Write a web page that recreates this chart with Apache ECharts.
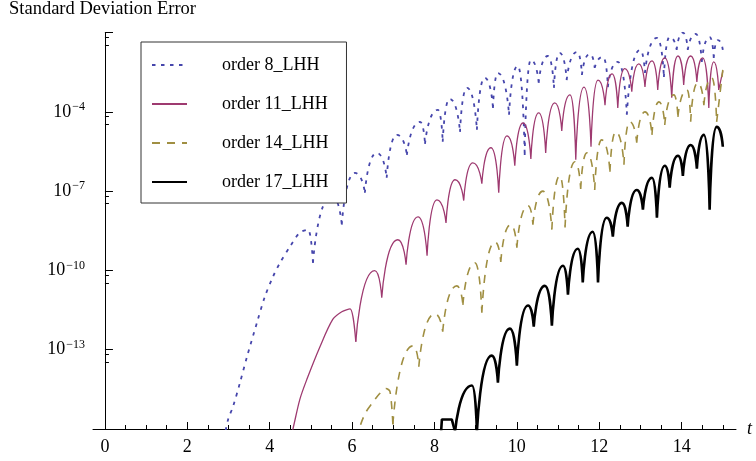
<!DOCTYPE html>
<html>
<head>
<meta charset="utf-8">
<title>Standard Deviation Error</title>
<script src="https://cdn.jsdelivr.net/npm/echarts@6/dist/echarts.min.js"></script>
<style>
  html, body { margin: 0; padding: 0; background: #fff; }
  #chart { width: 756px; height: 461px; }
</style>
</head>
<body>
<div id="chart"></div>
<script>
// values. "lead" = the first rise off the floor,
// "arch" = alternating cusp / peak (cusps at even index), last entry = end of run
const names = ['order 8_LHH', 'order 11_LHH', 'order 14_LHH', 'order 17_LHH'];

const lead8T = [2.89, 2.99, 3.11, 3.28, 3.45, 3.69, 3.88, 4.08, 4.25, 4.49, 4.73, 4.93, 5.05];
const lead8V = [4e-17, 2.3e-16, 7.1e-16, 5.8e-15, 5.5e-14, 1.05e-12, 1.0e-11, 5.8e-11, 1.95e-10, 7.9e-10, 2.7e-9, 3.5e-9, 1.95e-10];
const arch8T = [5.05, 5.51, 5.75, 6.07, 6.31, 6.60, 6.84, 7.09, 7.33, 7.65, 7.77, 8.08, 8.20, 8.37, 8.62, 8.79,
  9.03, 9.22, 9.42, 9.54, 9.81, 10.02, 10.19, 10.34, 10.53, 10.75, 10.90, 11.04, 11.21, 11.46, 11.58, 11.77,
  11.89, 12.09, 12.21, 12.45, 12.67, 12.99, 13.11, 13.40, 13.57, 13.71, 13.88, 14.03, 14.15, 14.34, 14.49,
  14.68, 14.78, 14.88, 15.0];
const arch8V = [1.95e-10, 6.6e-8, 5.4e-9, 4.9e-7, 8.7e-8, 2.8e-6, 3.2e-7, 1.35e-5, 2.35e-6, 4.2e-5, 6.2e-6, 1.2e-4,
  7.4e-6, 3.1e-4, 1.75e-5, 8.1e-4, 2.1e-5, 1.95e-3, 1.4e-4, 2.95e-3, 7.8e-5, 5.5e-3, 2.35e-6, 9.3e-3, 1.26e-3,
  1.3e-2, 8.1e-4, 1.7e-2, 1.6e-3, 1.85e-2, 2.5e-3, 1.55e-2, 4.6e-3, 1.2e-2, 8.7e-4, 7.8e-3, 7.8e-5, 2.2e-2,
  2.95e-3, 6.3e-2, 2.1e-3, 6.8e-2, 2.2e-2, 1.0e-1, 2.2e-2, 8.9e-2, 7.8e-3, 6.8e-2, 1.1e-2, 5.2e-2, 2.2e-2];

const lead11T = [4.49, 4.56, 4.73, 4.90, 5.22, 5.53, 5.75, 5.95, 6.09];
const lead11V = [4e-17, 9.5e-17, 1.3e-15, 7.4e-15, 1.3e-13, 1.4e-12, 2.75e-12, 3.5e-12, 2.0e-13];
const arch11T = [6.09, 6.55, 6.72, 7.11, 7.31, 7.60, 7.82, 8.06, 8.28, 8.50, 8.71, 8.93, 9.15, 9.37, 9.56, 9.76,
  9.95, 10.15, 10.34, 10.53, 10.70, 10.92, 11.09, 11.29, 11.43, 11.63, 11.80, 11.97, 12.14, 12.31, 12.45, 12.62,
  12.79, 12.96, 13.11, 13.28, 13.42, 13.59, 13.76, 13.91, 14.05, 14.22, 14.37, 14.51, 14.66, 14.78, 14.90, 15.0];
const arch11V = [2.0e-13, 9.8e-11, 9.3e-12, 1.45e-9, 1.66e-10, 1.07e-8, 3.6e-10, 4.7e-8, 6.3e-9, 2.7e-7, 4.4e-8,
  1.17e-6, 1.9e-7, 4.4e-6, 8.7e-8, 1.23e-5, 9.1e-7, 3.8e-5, 1.66e-6, 9.1e-5, 2.8e-6, 2.2e-4, 1.9e-5, 4.4e-4,
  1.55e-6, 8.7e-4, 4.8e-6, 1.6e-3, 1.8e-4, 2.75e-3, 1.4e-4, 4.3e-3, 5.8e-4, 6.5e-3, 8.7e-4, 8.5e-3, 6.8e-4,
  1.1e-2, 3.4e-4, 1.3e-2, 1.05e-3, 1.3e-2, 1.35e-3, 1.1e-2, 1.4e-4, 7.8e-3, 6.8e-4, 3.5e-3];

const lead14T = [6.12, 6.21, 6.33, 6.48, 6.67, 6.82, 6.92, 6.99];
const lead14V = [4e-17, 1.5e-16, 4.2e-16, 9.1e-16, 2.2e-15, 3.4e-15, 2.6e-15, 1.5e-16];
const arch14T = [6.99, 7.48, 7.62, 8.01, 8.20, 8.54, 8.69, 8.98, 9.15, 9.47, 9.61, 9.85, 10.0, 10.27, 10.39, 10.63,
  10.85, 11.04, 11.17, 11.41, 11.55, 11.70, 11.89, 12.06, 12.26, 12.40, 12.60, 12.74, 12.91, 13.11, 13.28, 13.45,
  13.59, 13.81, 13.91, 14.13, 14.22, 14.39, 14.54, 14.73, 14.85, 15.0];
const arch14V = [1.5e-16, 1.4e-13, 2.3e-14, 2.3e-12, 4.8e-13, 2.6e-11, 5.0e-12, 1.95e-10, 2.5e-12, 1.2e-9, 2.1e-10,
  5.4e-9, 7.2e-10, 2.8e-8, 5.4e-9, 1.0e-7, 3.5e-9, 3.8e-7, 4.2e-9, 1.3e-6, 1.2e-7, 2.8e-6, 1.1e-7, 8.7e-6, 5.4e-7,
  1.75e-5, 1.0e-6, 4.2e-5, 6.8e-6, 1.0e-4, 1.35e-5, 2.4e-4, 3.2e-5, 4.4e-4, 6.5e-5, 6.8e-4, 4.2e-5, 1.26e-3,
  1.8e-4, 1.95e-3, 4.2e-5, 3.9e-3];

const lead17T = [8.14, 8.18, 8.42, 8.50];
const lead17V = [2.5e-17, 2.3e-16, 2.3e-16, 7.9e-17];
const arch17T = [8.50, 8.91, 9.03, 9.39, 9.54, 9.83, 10.0, 10.27, 10.41, 10.68, 10.85, 11.12, 11.24, 11.48, 11.60,
  11.84, 11.97, 12.18, 12.33, 12.55, 12.69, 12.91, 13.06, 13.28, 13.40, 13.59, 13.71, 13.91, 14.03, 14.22, 14.37,
  14.54, 14.68, 14.85, 15.0];
const arch17V = [7.9e-17, 4.4e-15, 8e-17, 6.0e-14, 5.7e-15, 6.3e-13, 2.5e-14, 4.7e-12, 7.4e-13, 2.6e-11, 8.1e-13,
  1.5e-10, 1.2e-11, 6.6e-10, 3.5e-11, 2.9e-9, 3.5e-11, 9.8e-9, 1.9e-9, 3.6e-8, 4.5e-9, 1.1e-7, 2.0e-8, 3.2e-7,
  9.8e-9, 9.1e-7, 1.35e-7, 2.2e-6, 3.8e-7, 5.6e-6, 7.1e-7, 1.35e-5, 2.0e-8, 2.7e-5, 4.8e-6];

const xMajorTicks = [0, 2, 4, 6, 8, 10, 12, 14];
const xMinorTicks = [0.5, 1, 1.5, 2.5, 3, 3.5, 4.5, 5, 5.5, 6.5, 7, 7.5, 8.5, 9, 9.5, 10.5, 11, 11.5,
  12.5, 13, 13.5, 14.5, 15];
const yLabelPowers = [-4, -7, -10, -13];

const font = "'Liberation Serif', 'Times New Roman', serif";

function pairs(ts, vs) {
  return ts.map((t, i) => [t, vs[i]]);
}

// break the line at each cusp so every arch is smoothed on its own
function arches(ts, vs) {
  const out = [];
  ts.forEach((t, i) => {
    out.push([t, vs[i]]);
    if (i % 2 === 0 && i > 0 && i < ts.length - 1) {
      out.push([t, '-']);
      out.push([t, vs[i]]);
    }
  });
  return out;
}

function orderSeries(name, color, width, dash, leadT, leadV, archT, archV, leadSmooth) {
  const lineStyle = { color: color, width: width, type: dash };
  const common = {
    name: name, type: 'line', symbol: 'none', showSymbol: false,
    lineStyle: lineStyle, itemStyle: { color: color },
    silent: true, animation: false, clip: true,
    emphasis: { disabled: true }
  };
  return [
    Object.assign({}, common, { data: arches(archT, archV), smooth: 0.75, smoothMonotone: 'x' }),
    Object.assign({}, common, { data: pairs(leadT, leadV), smooth: leadSmooth })
  ];
}

const chart = echarts.init(document.getElementById('chart'));

chart.setOption({
  backgroundColor: '#fff',
  animation: false,
  title: {
    text: 'Standard Deviation Error',
    left: 9, top: 0, padding: 0,
    textStyle: { fontFamily: font, fontSize: 18.5, fontWeight: 'normal', color: '#000' }
  },
  legend: {
    data: names,
    orient: 'vertical',
    left: 141, top: 42,
    padding: [13, 18, 11, 10],
    itemWidth: 35, itemHeight: 14, itemGap: 19,
    backgroundColor: '#fff', borderColor: '#333', borderWidth: 1,
    selectedMode: false,
    itemStyle: { opacity: 0 },
    textStyle: { fontFamily: font, fontSize: 18, color: '#000', lineHeight: 20, padding: [0, 0, 0, 30] }
  },
  grid: { left: 93, right: 20, top: 32.6, bottom: 32 },
  xAxis: [{
    type: 'value', min: -0.29, max: 15.32,
    name: 't', nameLocation: 'end', nameGap: 11,
    nameTextStyle: { fontFamily: font, fontStyle: 'italic', fontSize: 18, color: '#000' },
    axisLine: { onZero: false, lineStyle: { color: '#000', width: 1 } },
    axisTick: { inside: true, length: 7, customValues: xMajorTicks, lineStyle: { color: '#000' } },
    axisLabel: { customValues: xMajorTicks, margin: 9, fontFamily: font, fontSize: 18, color: '#000' },
    splitLine: { show: false }
  }, {
    type: 'value', min: -0.29, max: 15.32, position: 'bottom',
    axisLine: { show: false },
    axisLabel: { show: false },
    axisTick: { inside: true, length: 4, customValues: xMinorTicks, lineStyle: { color: '#000' } },
    splitLine: { show: false }
  }],
  yAxis: {
    type: 'log', logBase: 10, min: 1e-16, max: 1e-1, interval: 3,
    axisLine: { onZero: true, onZeroAxisIndex: 0, lineStyle: { color: '#000', width: 1 } },
    axisTick: { inside: true, length: 8, lineStyle: { color: '#000' } },
    minorTick: { show: true, splitNumber: 3, length: 4, lineStyle: { color: '#000' } },
    splitLine: { show: false },
    minorSplitLine: { show: false },
    axisLabel: {
      margin: 8,
      formatter: function (v) {
        const p = Math.round(Math.log10(v));
        if (yLabelPowers.indexOf(p) < 0) return '';
        return '{b|10}{e|\u2212' + (-p) + '}';
      },
      rich: {
        b: { fontFamily: font, fontSize: 18, color: '#000' },
        e: { fontFamily: font, fontSize: 12, color: '#000', padding: [0, 0, 10, 1] }
      }
    }
  },
  series: [].concat(
    orderSeries(names[0], '#4646ac', 1.8, [3.5, 5.5], lead8T, lead8V, arch8T, arch8V, 0.3),
    orderSeries(names[1], '#9e3a70', 1.3, 'solid', lead11T, lead11V, arch11T, arch11V, 0.3),
    orderSeries(names[2], '#a08f42', 1.6, [8, 7], lead14T, lead14V, arch14T, arch14V, 0.3),
    orderSeries(names[3], '#000000', 2.6, 'solid', lead17T, lead17V, arch17T, arch17V, false)
  )
});
</script>
</body>
</html>
